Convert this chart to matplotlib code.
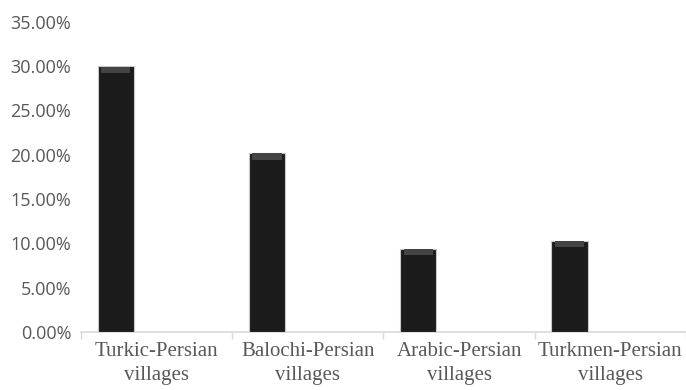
import matplotlib
matplotlib.use("Agg")
import matplotlib.pyplot as plt
from matplotlib.ticker import FuncFormatter, FixedLocator
import numpy as np

# Data
categories = ["Turkic-Persian\nvillages", "Balochi-Persian\nvillages",
              "Arabic-Persian\nvillages", "Turkmen-Persian\nvillages"]
shares = [30.0, 20.2, 9.4, 10.3]
yticks = [0, 5, 10, 15, 20, 25, 30, 35]

fig = plt.figure(figsize=(6.86, 3.90), dpi=100)
ax = fig.add_axes([0.118, 0.149, 0.882, 0.795])

x = np.arange(len(categories))
offset = -0.27
bars = ax.bar(x + offset, shares, width=0.24, color="#1b1b1b",
              edgecolor="#c8c8c8", linewidth=0.8, zorder=3)

# Subtle bevel highlight on the bar tops
for b in bars:
    ax.bar(b.get_x() + b.get_width() / 2, 0.7, bottom=b.get_height() - 0.75,
           width=b.get_width() * 0.8, color="#444444", linewidth=0, zorder=4)

ax.set_xlim(-0.5, len(categories) - 0.5)
ax.set_ylim(0, 35)
ax.set_yticks(yticks)
ax.yaxis.set_major_formatter(FuncFormatter(lambda v, p: f"{v:.2f}%"))
ax.tick_params(axis="y", length=0, pad=7, labelsize=13,
               labelcolor="#595959")
for lab in ax.get_yticklabels():
    lab.set_family("Open Sans")

ax.set_xticks(x)
ax.set_xticklabels(categories, family="Liberation Serif", fontsize=15,
                   color="#595959", linespacing=1.35)
ax.tick_params(axis="x", which="major", length=0, pad=7)
ax.xaxis.set_minor_locator(FixedLocator(np.arange(-0.5, len(categories), 1.0)))
ax.tick_params(axis="x", which="minor", length=5, color="#d9d9d9", width=1)

for s in ["top", "right", "left"]:
    ax.spines[s].set_visible(False)
ax.spines["bottom"].set_color("#d9d9d9")
ax.spines["bottom"].set_linewidth(1.2)

fig.savefig("out.png", dpi=100)
